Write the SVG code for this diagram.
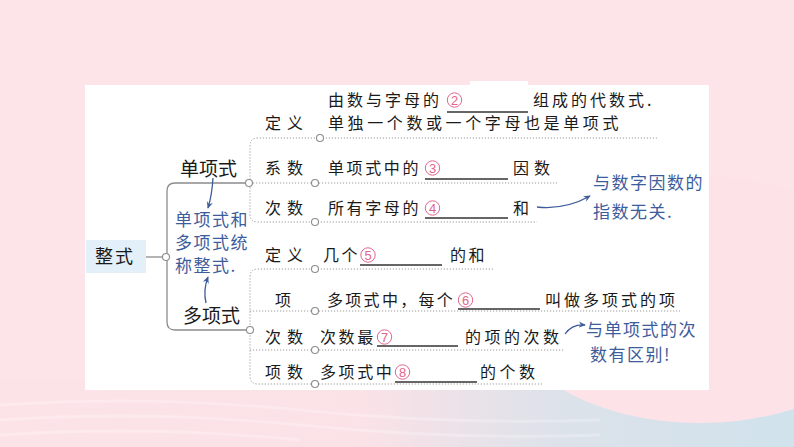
<svg xmlns="http://www.w3.org/2000/svg" width="794" height="447" viewBox="0 0 794 447">
<defs>
<linearGradient id="bg" x1="0" y1="0" x2="1" y2="0">
<stop offset="0" stop-color="#fce3e7"/>
<stop offset="0.45" stop-color="#fbe2e7"/>
<stop offset="0.7" stop-color="#dde2ea"/>
<stop offset="1" stop-color="#d0e2ec"/>
</linearGradient>
<marker id="ah" viewBox="0 0 10 10" refX="8" refY="5" markerWidth="6" markerHeight="6" orient="auto-start-reverse">
<path d="M0,1 L9,5 L0,9 L3,5 Z" fill="#3d5c9c"/>
</marker>
<style>
.t{font-family:"Noto Sans CJK SC","Liberation Sans",sans-serif;font-size:16px;fill:#1a1a1a;letter-spacing:2.6px}
.lab{letter-spacing:6px}
.big{font-family:"Noto Sans CJK SC","Liberation Sans",sans-serif;font-size:19px;fill:#1a1a1a}
.num{font-family:"Liberation Sans",sans-serif;font-size:13px;fill:#e2668c;text-anchor:middle}
.nc{fill:none;stroke:#e2668c;stroke-width:1}
.blue{font-family:"Noto Sans CJK SC","Liberation Sans",sans-serif;font-size:17px;fill:#3d5c9c;letter-spacing:1.5px}
.dot{fill:none;stroke:#9a9a9a;stroke-width:1;stroke-dasharray:1.2 1.8}
.sol{fill:none;stroke:#8c8c8c;stroke-width:1.3}
.ul{stroke:#333;stroke-width:1.6}
.c{fill:#fff;stroke:#8c8c8c;stroke-width:1.1}
.arr{fill:none;stroke:#3d5c9c;stroke-width:1.3;marker-end:url(#ah)}
</style>
</defs>
<rect width="794" height="447" fill="#fce4e8"/>
<rect x="0" y="380" width="794" height="67" fill="url(#bg)"/>
<ellipse cx="700" cy="300" rx="201" ry="123" fill="#fde3e7"/>
<g fill="none" stroke="#ffffff" stroke-opacity="0.25" stroke-width="3">
<path d="M0,405 Q150,395 300,410 T600,420"/>
<path d="M0,420 Q150,410 300,425 T600,435"/>
<path d="M0,435 Q150,425 300,440"/>
</g>
<rect x="85" y="85" width="624" height="305" fill="#ffffff"/>
<rect x="470" y="81" width="58" height="5" fill="#ffffff"/>

<g id="connectors">
<line class="sol" x1="146" y1="257" x2="166" y2="257"/>
<path class="sol" d="M249,183 H175 Q167,183 167,191 V322 Q167,330 175,330 H250"/>
<path class="dot" d="M657,138 H258 Q250,138 250,146 V214 Q250,222 258,222 H537"/>
<line class="dot" x1="250" y1="183" x2="557" y2="183"/>
<path class="dot" d="M493,269 H258 Q250,269 250,277 V376 Q250,384 258,384 H543"/>
<line class="dot" x1="250" y1="311" x2="680" y2="311"/>
<line class="dot" x1="250" y1="350" x2="565" y2="350"/>
<circle class="c" cx="166" cy="257" r="3.5"/>
<circle class="c" cx="249" cy="183" r="3.5"/>
<circle class="c" cx="250" cy="330" r="3.5"/>
<circle class="c" cx="320" cy="138" r="3.5"/>
<circle class="c" cx="315" cy="183" r="3.5"/>
<circle class="c" cx="315" cy="222" r="3.5"/>
<circle class="c" cx="315" cy="269" r="3.5"/>
<circle class="c" cx="315" cy="311" r="3.5"/>
<circle class="c" cx="315" cy="350" r="3.5"/>
<circle class="c" cx="315" cy="384" r="3.5"/>
<path class="arr" d="M213,178 Q212,195 208,208"/>
<path class="arr" d="M206,303 Q203,290 208,277"/>
<path class="arr" d="M537,207 Q565,210 590,196"/>
<path class="arr" d="M565,334 Q572,324 585,325"/>
</g>

<g id="zhengshi">
<rect x="86" y="240" width="60" height="33" fill="#e3eff9"/>
<text class="big" x="95" y="263" style="font-size:18px;letter-spacing:2px">整式</text>
</g>
<g id="danxiangshi">
<text class="big" x="180" y="176">单项式</text>
</g>
<g id="duoxiangshi">
<text class="big" x="183" y="323">多项式</text>
</g>
<g id="note-zhengshi">
<text class="blue" x="175" y="226">单项式和</text>
<text class="blue" x="175" y="249">多项式统</text>
<text class="blue" x="175" y="272">称整式.</text>
</g>

<g id="dan-dingyi">
<text class="t lab" x="265" y="129">定义</text>
<text class="t" x="328" y="106" style="letter-spacing:3px">由数与字母的</text>
<circle class="nc" cx="454.5" cy="100" r="7.2"/>
<text class="num" x="454.5" y="104.6">2</text>
<line class="ul" x1="447" y1="112" x2="528" y2="112"/>
<text class="t" x="533" y="106" style="letter-spacing:3px">组成的代数式.</text>
<text class="t" x="328" y="129" style="letter-spacing:3.6px">单独一个数或一个字母也是单项式</text>
</g>
<g id="dan-xishu">
<text class="t lab" x="265" y="174">系数</text>
<text class="t" x="328" y="174">单项式中的</text>
<circle class="nc" cx="432.5" cy="168" r="7.2"/>
<text class="num" x="432.5" y="172.6">3</text>
<line class="ul" x1="425" y1="179" x2="508" y2="179"/>
<text class="t" x="513" y="174" style="letter-spacing:5px">因数</text>
</g>
<g id="dan-cishu">
<text class="t lab" x="265" y="214">次数</text>
<text class="t" x="328" y="214">所有字母的</text>
<circle class="nc" cx="432.5" cy="208" r="7.2"/>
<text class="num" x="432.5" y="212.6">4</text>
<line class="ul" x1="425" y1="218" x2="508" y2="218"/>
<text class="t" x="513" y="214">和</text>
</g>
<g id="note-cishu">
<text class="blue" x="593" y="189">与数字因数的</text>
<text class="blue" x="593" y="218">指数无关.</text>
</g>

<g id="duo-dingyi">
<text class="t lab" x="265" y="261">定义</text>
<text class="t" x="323" y="261">几个</text>
<circle class="nc" cx="368" cy="255" r="7.2"/>
<text class="num" x="368" y="259.6">5</text>
<line class="ul" x1="360" y1="265" x2="442" y2="265"/>
<text class="t" x="450" y="261">的和</text>
</g>
<g id="duo-xiang">
<text class="t" x="275" y="306">项</text>
<text class="t" x="327" y="306" style="letter-spacing:2.3px">多项式中，每个</text>
<circle class="nc" cx="465.5" cy="300" r="7.2"/>
<text class="num" x="465.5" y="304.6">6</text>
<line class="ul" x1="458" y1="309" x2="540" y2="309"/>
<text class="t" x="545" y="306" style="letter-spacing:3px">叫做多项式的项</text>
</g>
<g id="duo-cishu">
<text class="t lab" x="265" y="343">次数</text>
<text class="t" x="320" y="343">次数最</text>
<circle class="nc" cx="384.5" cy="337" r="7.2"/>
<text class="num" x="384.5" y="341.6">7</text>
<line class="ul" x1="377" y1="346" x2="458" y2="346"/>
<text class="t" x="465" y="343" style="letter-spacing:3.5px">的项的次数</text>
</g>
<g id="duo-xiangshu">
<text class="t lab" x="265" y="378">项数</text>
<text class="t" x="320" y="378">多项式中</text>
<circle class="nc" cx="402.5" cy="372" r="7.2"/>
<text class="num" x="402.5" y="376.6">8</text>
<line class="ul" x1="395" y1="382" x2="477" y2="382"/>
<text class="t" x="480" y="378" style="letter-spacing:3.5px">的个数</text>
</g>
<g id="note-duo">
<text class="blue" x="586" y="336">与单项式的次</text>
<text class="blue" x="590" y="361">数有区别!</text>
</g>
</svg>
